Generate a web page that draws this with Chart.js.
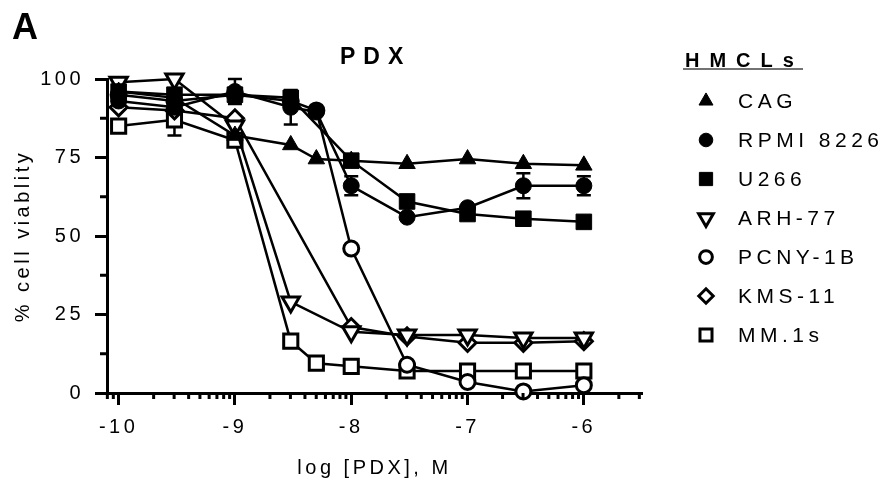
<!DOCTYPE html>
<html lang="en">
<head>
<meta charset="UTF-8">
<title>PDX - HMCL viability</title>
<script src="https://cdn.jsdelivr.net/npm/chart.js"></script>
<style>
    html, body { margin: 0; padding: 0; background: #fff; }
    .chart-box { position: relative; width: 890px; height: 487px; }
</style>
</head>
<body>
<div class="chart-box"><canvas id="pdxChart"></canvas></div>
<script>
// log [PDX] (M) of each tested concentration
const logDose = [-10, -9.52, -9, -8.52, -8.3, -8, -7.52, -7, -6.52, -6];
const cellLines = ['CAG', 'RPMI 8226', 'U266', 'ARH-77', 'PCNY-1B', 'KMS-11', 'MM.1s'];

// % cell viability per cell line (null = no point at that dose)
const cagVals   = [96, 94, 82, 79, 74.5, 74, 73, 74.5, 73, 72.5];
const rpmiVals  = [93, 91, 96, 91, 89.5, 66, 56, 59, 66, 66];
const u266Vals  = [96, 95, 95, 94, null, 74, 61, 57, 55.5, 54.5];
const arhVals   = [99, 100, 85, 29, null, 19.5, 18.5, 18.5, 17.5, 17.5];
const pcnyVals  = [95, 93, 95, 93, 90, 46, 9, 3.5, 0.5, 2.5];
const kmsVals   = [91, 90, 87.5, null, null, 21, 18, 16, 16, 16.5];
const mm1sVals  = [85, 87, 80.5, 16.5, 9.5, 8.5, 7, 7, 7, 7];

// error bars (+/-), same order as logDose
const rpmiErr = [null, null, 4, 5.5, null, 3, null, null, 4, 3];
const u266Err = [null, null, null, null, null, null, 2, null, null, null];
const mm1sErr = [null, 5, null, null, null, null, null, null, null, null];

const xTickVals = [-10, -9, -8, -7, -6];
const yTickVals = [0, 25, 50, 75, 100];
const yMinorVals = [12.5, 37.5, 62.5, 87.5];
const minorFactors = [2, 3, 4, 5, 6, 7, 8, 9];

const allVals = [cagVals, rpmiVals, u266Vals, arhVals, pcnyVals, kmsVals, mm1sVals];
const allErr = [null, rpmiErr, u266Err, null, null, null, mm1sErr];

// marker look for each line
const markers = [
    { style: 'triangle', rot: 0,   filled: true,  r: 9.5 },
    { style: 'circle',   rot: 0,   filled: true,  r: 8 },
    { style: 'rect',     rot: 0,   filled: true,  r: 11 },
    { style: 'triangle', rot: 180, filled: false, r: 10 },
    { style: 'circle',   rot: 0,   filled: false, r: 7.5 },
    { style: 'rectRot',  rot: 0,   filled: false, r: 8.5 },
    { style: 'rect',     rot: 0,   filled: false, r: 10 }
];

const FONT = "'Liberation Sans', Arial, sans-serif";
const X_MIN = -10.1, X_MAX = -5.5;

const datasets = cellLines.map(function(name, i) {
    const pts = [];
    allVals[i].forEach(function(v, k) {
        if (v !== null) pts.push({ x: logDose[k], y: v, err: allErr[i] ? allErr[i][k] : null });
    });
    const m = markers[i];
    return {
        label: name,
        data: pts,
        borderColor: '#000',
        borderWidth: 2.5,
        pointStyle: m.style,
        pointRotation: m.rot,
        pointRadius: m.r,
        pointBackgroundColor: m.filled ? '#000' : '#fff',
        pointBorderColor: '#000',
        pointBorderWidth: m.filled ? 1 : 3,
        tension: 0,
        clip: false
    };
});

const extras = {
    id: 'extras',
    beforeUpdate(chart) { chart.ctx.letterSpacing = '3.5px'; },
    beforeDraw(chart) { chart.ctx.letterSpacing = '3.5px'; },
    beforeDatasetsDraw(chart) {
        // error bars, under the markers
        const ctx = chart.ctx, xs = chart.scales.x, ys = chart.scales.y;
        ctx.save();
        ctx.strokeStyle = '#000';
        ctx.lineWidth = 2.5;
        chart.data.datasets.forEach(function(ds) {
            ds.data.forEach(function(p) {
                if (!p.err) return;
                const px = xs.getPixelForValue(p.x);
                const top = ys.getPixelForValue(p.y + p.err);
                const bot = ys.getPixelForValue(p.y - p.err);
                ctx.beginPath();
                ctx.moveTo(px, top); ctx.lineTo(px, bot);
                ctx.moveTo(px - 7, top); ctx.lineTo(px + 7, top);
                ctx.moveTo(px - 7, bot); ctx.lineTo(px + 7, bot);
                ctx.stroke();
            });
        });
        ctx.restore();
    },
    afterDraw(chart) {
        const ctx = chart.ctx, xs = chart.scales.x, ys = chart.scales.y;
        const area = chart.chartArea;
        ctx.save();
        ctx.strokeStyle = '#000';
        ctx.lineWidth = 3;
        // minor log ticks on x
        ctx.beginPath();
        for (let d = -11; d <= -6; d++) {
            minorFactors.forEach(function(f) {
                const v = d + Math.log10(f);
                if (v < X_MIN || v > X_MAX) return;
                const px = xs.getPixelForValue(v);
                ctx.moveTo(px, area.bottom); ctx.lineTo(px, area.bottom + 6);
            });
        }
        // minor ticks on y
        yMinorVals.forEach(function(v) {
            const py = ys.getPixelForValue(v);
            ctx.moveTo(area.left, py); ctx.lineTo(area.left - 7, py);
        });
        ctx.stroke();

        ctx.fillStyle = '#000';
        ctx.textBaseline = 'alphabetic';
        ctx.textAlign = 'left';
        ctx.letterSpacing = '0px';
        ctx.font = "bold 36px " + FONT;
        ctx.fillText('A', 12, 39);

        ctx.letterSpacing = '8px';
        ctx.font = "bold 23px " + FONT;
        ctx.fillText('PDX', 340, 64);

        // legend
        ctx.letterSpacing = '10px';
        ctx.font = "bold 20px " + FONT;
        ctx.fillText('HMCLs', 685, 67);
        ctx.lineWidth = 1.5;
        ctx.strokeStyle = '#444';
        ctx.beginPath();
        ctx.moveTo(683, 69); ctx.lineTo(803, 69);
        ctx.stroke();

        ctx.letterSpacing = '4.5px';
        ctx.font = "21px " + FONT;
        ctx.textBaseline = 'middle';
        chart.data.datasets.forEach(function(ds, i) {
            const cy = 101 + 39 * i;
            const m = markers[i];
            ctx.fillStyle = m.filled ? '#000' : '#fff';
            ctx.strokeStyle = '#000';
            ctx.lineWidth = m.filled ? 1 : 3;
            Chart.helpers.drawPoint(ctx, { pointStyle: m.style, rotation: m.rot, radius: m.r * 0.85, borderWidth: ctx.lineWidth }, 706, cy);
            ctx.fillStyle = '#000';
            ctx.fillText(ds.label, 738, cy + 1);
        });
        ctx.restore();
    }
};

new Chart(document.getElementById('pdxChart'), {
    type: 'line',
    data: { datasets: datasets },
    options: {
        responsive: true,
        maintainAspectRatio: false,
        animation: false,
        layout: { padding: { top: 79, right: 248, bottom: 0, left: 0 } },
        plugins: { legend: { display: false }, tooltip: { enabled: false } },
        scales: {
            x: {
                type: 'linear',
                min: X_MIN,
                max: X_MAX,
                afterFit: function(scale) { scale.height = 94; },
                afterBuildTicks: function(scale) { scale.ticks = xTickVals.map(v => ({ value: v })); },
                grid: { drawOnChartArea: false, drawTicks: true, tickLength: 12, tickWidth: 3, tickColor: '#000' },
                border: { display: true, width: 3, color: '#000' },
                ticks: { color: '#000', padding: 10, font: { family: FONT, size: 20 }, callback: v => String(v) },
                title: { display: true, text: 'log [PDX], M', color: '#000', font: { family: FONT, size: 20 }, padding: { top: 4, bottom: 7 } }
            },
            y: {
                min: 0,
                max: 100,
                afterFit: function(scale) { scale.width = 107; },
                afterBuildTicks: function(scale) { scale.ticks = yTickVals.map(v => ({ value: v })); },
                grid: { drawOnChartArea: false, drawTicks: true, tickLength: 12, tickWidth: 3, tickColor: '#000' },
                border: { display: true, width: 3, color: '#000' },
                ticks: { color: '#000', padding: 11, font: { family: FONT, size: 20 } },
                title: { display: true, text: '% cell viablity', color: '#000', font: { family: FONT, size: 20 }, padding: { top: 11, bottom: 4 } }
            }
        }
    },
    plugins: [extras]
});
</script>
</body>
</html>
